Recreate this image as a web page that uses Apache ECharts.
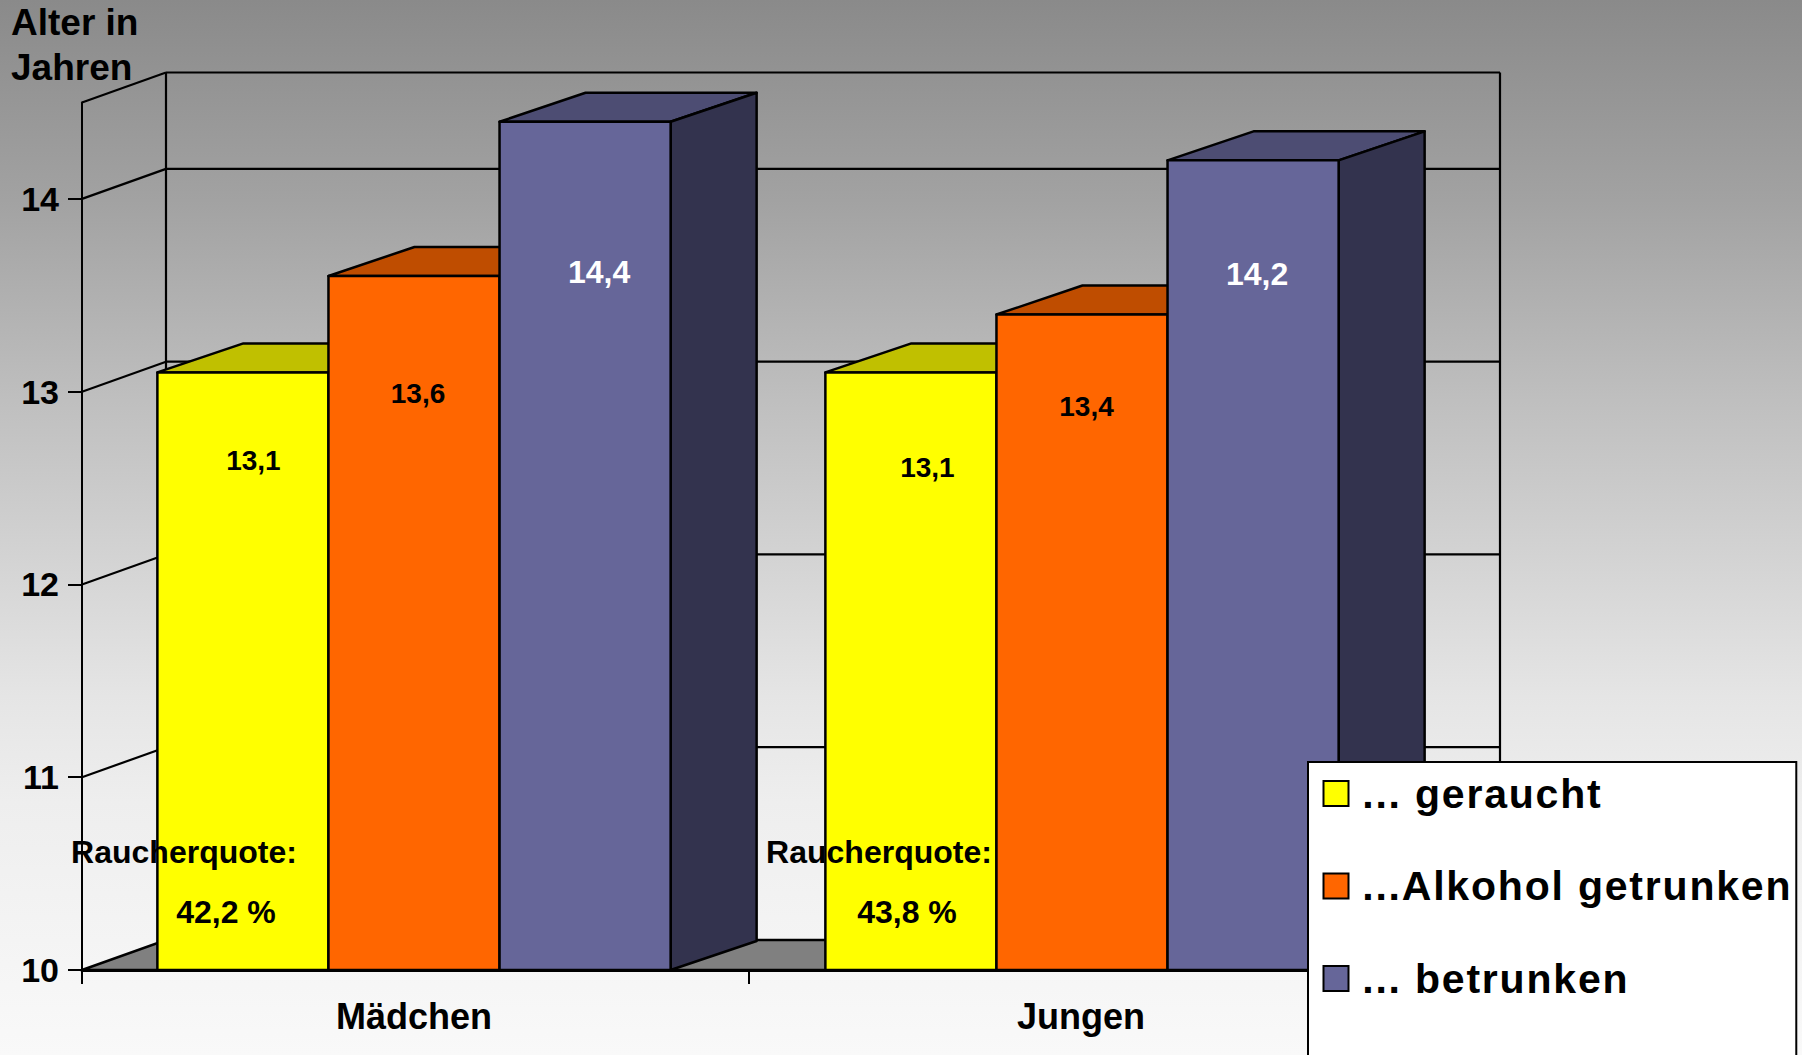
<!DOCTYPE html>
<html><head><meta charset="utf-8">
<style>
html,body{margin:0;padding:0;background:#fff}
#c{width:1802px;height:1055px}
svg text[style*="41px"]{letter-spacing:1.8px}
</style>
<script src="https://cdn.jsdelivr.net/npm/echarts@6/dist/echarts.min.js"></script>
</head><body><div id="c"></div>
<script>
const categories = ['Mädchen', 'Jungen'];
const seriesNames = ['... geraucht', '...Alkohol getrunken', '... betrunken'];
const geraucht = [13.1, 13.1];
const alkohol = [13.6, 13.4];
const betrunken = [14.4, 14.2];
const quoteLabel = 'Raucherquote:';
const quoteValues = ['42,2 %', '43,8 %'];
const tickValues = [10, 11, 12, 13, 14];

const FONT = '"Liberation Sans", Arial, sans-serif';
const frontColors = ['#FFFF00', '#FF6600', '#666699'];
const topColors = ['#C0C000', '#BF4D00', '#4D4D73'];
const sideColors = ['#808000', '#803300', '#33334E'];
const labelColors = ['#000', '#000', '#fff'];
const labelSizes = [28, 28, 32];
// hand placement of the value labels: [dx, dy] from the bar's top centre
const labelNudge = [
  [[10.5, 88], [16.5, 95.5]],
  [[4, 117], [4.5, 92]],
  [[14, 150], [4, 114]]
];
const quoteNudge = [
  { label: [-231.5, -118], value: [-189.5, -58] },
  { label: [-203.5, -118], value: [-175.5, -58] }
];
const WALL_DX = 84, WALL_DY = 30, BAR_DX = 86, BAR_DY = 29;
const BAR_FRACTION = 0.2565, GROUP_SHIFT = [-1.5, -0.5];

function line(x1, y1, x2, y2, w) {
  return { type: 'line', shape: { x1, y1, x2, y2 }, style: { stroke: '#000', lineWidth: w || 2.2 } };
}

function renderFrame(params, api) {
  const cs = params.coordSys;
  const v = api.value(0);
  const y = api.coord([0, v])[1];
  const left = cs.x, right = cs.x + cs.width;
  const children = [];
  if (v === 10) {
    children.push({
      type: 'polygon',
      shape: { points: [[left, y], [left + WALL_DX, y - WALL_DY], [right + WALL_DX, y - WALL_DY], [right, y]] },
      style: { fill: '#808080', stroke: '#000', lineWidth: 2.5 }
    });
    children.push(line(left + WALL_DX, cs.y - WALL_DY, left + WALL_DX, y - WALL_DY));
    children.push(line(right + WALL_DX, cs.y - WALL_DY, right + WALL_DX, y - WALL_DY));
    children.push(line(left + WALL_DX, cs.y - WALL_DY, right + WALL_DX, cs.y - WALL_DY));
    children.push(line(left, cs.y, left + WALL_DX, cs.y - WALL_DY));
  } else {
    children.push(line(left, y, left + WALL_DX, y - WALL_DY));
    children.push(line(left + WALL_DX, y - WALL_DY, right + WALL_DX, y - WALL_DY));
  }
  return { type: 'group', children };
}

function barRenderer(si) {
  return function (params, api) {
    const cat = api.value(0), val = api.value(1);
    const top = api.coord([cat, val]);
    const base = api.coord([cat, 10]);
    const bw = api.size([1, 0])[0] * BAR_FRACTION;
    const x0 = top[0] + GROUP_SHIFT[cat] + (si - 1.5) * bw;
    const x1 = x0 + bw, yt = top[1], yb = base[1];
    const stroke = { stroke: '#000', lineWidth: 2.5, lineJoin: 'round' };
    const nudge = labelNudge[si][cat];
    return {
      type: 'group',
      children: [
        { type: 'polygon', shape: { points: [[x0, yt], [x0 + BAR_DX, yt - BAR_DY], [x1 + BAR_DX, yt - BAR_DY], [x1, yt]] },
          style: Object.assign({ fill: topColors[si] }, stroke) },
        { type: 'polygon', shape: { points: [[x1, yt], [x1 + BAR_DX, yt - BAR_DY], [x1 + BAR_DX, yb - BAR_DY], [x1, yb]] },
          style: Object.assign({ fill: sideColors[si] }, stroke) },
        { type: 'rect', shape: { x: x0, y: yt, width: bw, height: yb - yt },
          style: Object.assign({ fill: frontColors[si] }, stroke) },
        { type: 'text', x: (x0 + x1) / 2 + nudge[0], y: yt + nudge[1], z2: 50,
          style: { text: String(val).replace('.', ','), fill: labelColors[si],
            font: 'bold ' + labelSizes[si] + 'px ' + FONT, align: 'center', verticalAlign: 'middle' } }
      ]
    };
  };
}

function renderQuote(params, api) {
  const cat = api.value(0);
  const p = api.coord([cat, 10]);
  const n = quoteNudge[cat];
  const font = 'bold 32px ' + FONT;
  return {
    type: 'group',
    children: [
      { type: 'text', x: p[0] + n.label[0], y: p[1] + n.label[1],
        style: { text: quoteLabel, fill: '#000', font, align: 'center', verticalAlign: 'middle' } },
      { type: 'text', x: p[0] + n.value[0], y: p[1] + n.value[1],
        style: { text: quoteValues[cat], fill: '#000', font, align: 'center', verticalAlign: 'middle' } }
    ]
  };
}

const valueArrays = [geraucht, alkohol, betrunken];
const barSeries = seriesNames.map((name, si) => ({
  type: 'custom', name, coordinateSystem: 'cartesian2d', z: 3 + si, clip: false,
  encode: { x: 0, y: 1 }, silent: true,
  itemStyle: { color: frontColors[si], borderColor: '#000', borderWidth: 2 },
  data: valueArrays[si].map((v, i) => [i, v]),
  renderItem: barRenderer(si)
}));

const chart = echarts.init(document.getElementById('c'), null, { renderer: 'svg' });
chart.setOption({
  animation: false,
  textStyle: { fontFamily: FONT },
  title: {
    text: 'Alter in\nJahren', left: 11, top: 0, padding: 0,
    textStyle: { fontSize: 37, fontWeight: 'bold', color: '#000', lineHeight: 45, fontFamily: FONT }
  },
  graphic: [{
    type: 'rect', z: -100, silent: true, shape: { x: 0, y: 0, width: 1802, height: 1055 },
    style: { fill: new echarts.graphic.LinearGradient(0, 0, 0, 1, [
      { offset: 0, color: '#8a8a8a' }, { offset: 0.19, color: '#a2a2a2' }, { offset: 0.38, color: '#bfbfbf' },
      { offset: 0.66, color: '#e5e5e5' }, { offset: 0.76, color: '#eeeeee' }, { offset: 1, color: '#f9f9f9' }
    ]) }
  }],
  legend: {
    orient: 'vertical', left: 1308, top: 762, width: 489, height: 600,
    padding: [6.5, 40, 90, 14.5],
    backgroundColor: '#fff', borderColor: '#000', borderWidth: 2, borderRadius: 0,
    itemWidth: 25, itemHeight: 25, itemGap: 42.5, selectedMode: false, z: 20,
    textStyle: { fontSize: 41, fontWeight: 'bold', color: '#000', lineHeight: 50, fontFamily: FONT, padding: [0, 0, 0, 8.7] },
    data: seriesNames.map((name, si) => ({
      name, icon: 'rect',
      itemStyle: { color: frontColors[si], borderColor: '#000', borderWidth: 2 }
    }))
  },
  grid: { left: 82, right: 386, top: 102.5, bottom: 85, containLabel: false },
  xAxis: {
    type: 'category', data: categories, z: 6,
    axisLine: { show: true, lineStyle: { color: '#000', width: 3 } },
    axisTick: { show: true, length: 14, alignWithLabel: false, lineStyle: { color: '#000', width: 2 } },
    axisLabel: { margin: 28, fontSize: 36, fontWeight: 'bold', color: '#000', fontFamily: FONT, padding: [0, 3, 0, 0] },
    splitLine: { show: false }
  },
  yAxis: {
    type: 'value', min: 10, max: 14.5, interval: 1, z: 6,
    axisLine: { show: true, onZero: false, lineStyle: { color: '#000', width: 2 } },
    axisTick: { show: true, length: 14, customValues: tickValues, lineStyle: { color: '#000', width: 2 } },
    axisLabel: { margin: 23, fontSize: 34, fontWeight: 'bold', color: '#000', fontFamily: FONT, customValues: tickValues, formatter: v => String(v) },
    splitLine: { show: false }
  },
  series: [
    { type: 'custom', name: 'Rahmen', coordinateSystem: 'cartesian2d', z: 1, clip: false, silent: true,
      encode: { y: 0 }, data: tickValues.map(v => [v]), renderItem: renderFrame },
    ...barSeries,
    { type: 'custom', name: 'Raucherquote', coordinateSystem: 'cartesian2d', z: 10, clip: false, silent: true,
      encode: { x: 0 }, data: categories.map((c, i) => [i]), renderItem: renderQuote }
  ]
});
</script></body></html>
